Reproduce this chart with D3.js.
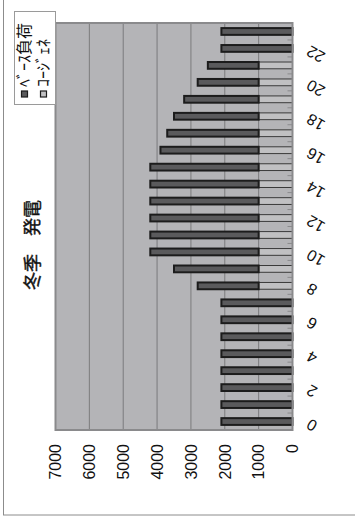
<!DOCTYPE html>
<html>
<head>
<meta charset="utf-8">
<script src="https://cdn.jsdelivr.net/npm/d3@7"></script>
<style>
  body { margin: 0; background: #fff; }
  svg { display: block; }
</style>
</head>
<body>
<div id="chart"></div>
<script>
// hourly generation, winter (the chart is drawn turned 90deg anticlockwise)
const hours = [0, 1, 2, 3, 4, 5, 6, 7, 8, 9, 10, 11, 12, 13, 14, 15, 16, 17, 18, 19, 20, 21, 22, 23];
const cogen = [0, 0, 0, 0, 0, 0, 0, 0, 1000, 1000, 1000, 1000, 1000, 1000, 1000, 1000, 1000, 1000, 1000, 1000, 1000, 1000, 0, 0];
const baseLoad = [2100, 2100, 2100, 2100, 2100, 2100, 2100, 2100, 1800, 2500, 3200, 3200, 3200, 3200, 3200, 3200, 2900, 2700, 2500, 2200, 1800, 1500, 2100, 2100];
const valueTicks = [0, 1000, 2000, 3000, 4000, 5000, 6000, 7000];
const hourLabels = [0, 2, 4, 6, 8, 10, 12, 14, 16, 18, 20, 22];
const seriesNames = ["ｺｰｼﾞｪﾈ", "ﾍﾞｰｽ負荷"];
const legendNames = ["ﾍﾞｰｽ負荷", "ｺｰｼﾞｪﾈ"];
const title = "冬季　発電";

const W = 355, H = 522;
const plot = { left: 55.5, right: 292.5, top: 23, bottom: 430 };

const svg = d3.select("#chart").append("svg")
  .attr("width", W)
  .attr("height", H);

// outer frame
svg.append("rect")
  .attr("x", 3.5).attr("y", -5)
  .attr("width", 370).attr("height", 520)
  .attr("fill", "none")
  .attr("stroke", "#8c8c8c");

// value scale runs right to left, hours bottom to top
const x = d3.scaleLinear().domain([0, 7000]).range([plot.right, plot.left]);
const y = d3.scaleBand().domain(hours).range([plot.bottom, plot.top]).paddingInner(0.6).paddingOuter(0.3);
const band = d3.scaleBand().domain(hours).range([plot.bottom, plot.top]);

svg.append("rect")
  .attr("x", plot.left).attr("y", plot.top)
  .attr("width", plot.right - plot.left).attr("height", plot.bottom - plot.top)
  .attr("fill", "#b4b4b7");

// gridlines
svg.append("g").selectAll("line")
  .data(valueTicks.filter(d => d > 0 && d < 7000))
  .join("line")
  .attr("x1", d => x(d)).attr("x2", d => x(d))
  .attr("y1", plot.top).attr("y2", plot.bottom)
  .attr("stroke", "#7b7b7d")
  .attr("stroke-width", 1);

// stacked bars
const rows = hours.map((h, i) => ({ hour: h, "ｺｰｼﾞｪﾈ": cogen[i], "ﾍﾞｰｽ負荷": baseLoad[i] }));
const stacked = d3.stack().keys(seriesNames)(rows);
const fills = { "ｺｰｼﾞｪﾈ": "#c0c0c2", "ﾍﾞｰｽ負荷": "#5a5a5c" };
const strokes = { "ｺｰｼﾞｪﾈ": "#3a3a3a", "ﾍﾞｰｽ負荷": "#1c1c1c" };
const widths = { "ｺｰｼﾞｪﾈ": 1, "ﾍﾞｰｽ負荷": 2 };

svg.append("g").selectAll("g")
  .data(stacked)
  .join("g")
  .each(function (s) {
    d3.select(this).selectAll("rect")
      .data(s.filter(d => d[1] > d[0]))
      .join("rect")
      .attr("x", d => x(d[1]))
      .attr("width", d => x(d[0]) - x(d[1]))
      .attr("y", d => y(d.data.hour))
      .attr("height", y.bandwidth())
      .attr("fill", fills[s.key])
      .attr("stroke", strokes[s.key])
      .attr("stroke-width", widths[s.key]);
  });

// plot border
svg.append("rect")
  .attr("x", plot.left).attr("y", plot.top)
  .attr("width", plot.right - plot.left).attr("height", plot.bottom - plot.top)
  .attr("fill", "none")
  .attr("stroke", "#8a8a8c")
  .attr("stroke-width", 2);

// small category ticks on the hour axis
svg.append("g").selectAll("line")
  .data(hours)
  .join("line")
  .attr("x1", plot.right - 5).attr("x2", plot.right)
  .attr("y1", d => band(d)).attr("y2", d => band(d))
  .attr("stroke", "#8a8a8c");

// value axis labels (bottom, turned)
svg.append("g").selectAll("text")
  .data(valueTicks)
  .join("text")
  .attr("transform", d => `translate(${x(d)},444) rotate(-90)`)
  .attr("text-anchor", "end")
  .attr("dy", "0.36em")
  .style("font-family", "'Liberation Sans', Arial, sans-serif")
  .style("font-size", "16px")
  .attr("fill", "#111")
  .text(d => d);

// hour labels (right side, slanted)
svg.append("g").selectAll("text")
  .data(hourLabels)
  .join("text")
  .attr("transform", d => `translate(308,${band(d) + band.bandwidth() / 2 + 1.5}) rotate(210)`)
  .attr("text-anchor", "end")
  .attr("dy", "0.36em")
  .style("font-family", "'Liberation Sans', Arial, sans-serif")
  .style("font-size", "16px")
  .attr("fill", "#111")
  .text(d => d);

// title
svg.append("text")
  .attr("transform", "translate(33,245) rotate(-90)")
  .attr("text-anchor", "middle")
  .attr("dy", "0.36em")
  .style("font-family", "'Noto Sans CJK JP', sans-serif")
  .style("font-size", "18px")
  .attr("fill", "#111")
  .attr("stroke", "#111")
  .attr("stroke-width", 0.4)
  .text(title);

// legend
const legend = svg.append("g");
legend.append("rect")
  .attr("x", 14.5).attr("y", 11.5)
  .attr("width", 41).attr("height", 93)
  .attr("fill", "#fff")
  .attr("stroke", "#9a9a9a");

const legendFill = { "ﾍﾞｰｽ負荷": "#5a5a5c", "ｺｰｼﾞｪﾈ": "#c0c0c2" };
const item = legend.selectAll("g.item")
  .data(legendNames)
  .join("g")
  .attr("class", "item")
  .attr("transform", (d, i) => `translate(${24.5 + i * 19},0)`);

item.append("rect")
  .attr("x", -3).attr("y", 91)
  .attr("width", 6).attr("height", 6)
  .attr("fill", d => legendFill[d])
  .attr("stroke", "#1c1c1c")
  .attr("stroke-width", 1.2);

item.append("text")
  .attr("transform", "translate(0,87) rotate(-90)")
  .attr("dy", "0.36em")
  .style("font-family", "'Noto Sans CJK JP', sans-serif")
  .style("font-size", "16px")
  .attr("fill", "#111")
  .text(d => d);
</script>
</body>
</html>
